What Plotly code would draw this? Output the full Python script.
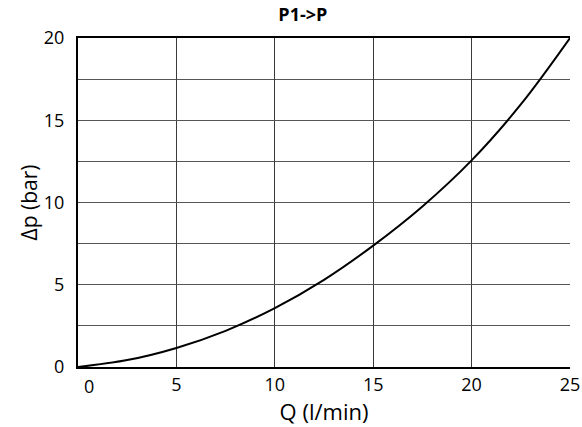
import plotly.graph_objects as go

q_lpm = [0, 2.5, 5, 7.5, 10, 12.5, 15, 17.5, 20, 22.5, 25]
dp_bar = [0, 0.42, 1.16, 2.2, 3.58, 5.30, 7.38, 9.76, 12.56, 15.96, 20.0]
x_ticks = [0, 5, 10, 15, 20, 25]
y_ticks = [0, 5, 10, 15, 20]
y_minor = [2.5, 7.5, 12.5, 17.5]

W, H = 582, 427

fig = go.Figure()
fig.add_trace(go.Scatter(x=q_lpm, y=dp_bar, mode="lines",
                         line=dict(color="black", width=2, shape="spline", smoothing=1.0),
                         showlegend=False, hoverinfo="skip"))

font_family = "Open Sans, Noto Sans, sans-serif"
fig.update_layout(
    width=W, height=H,
    margin=dict(l=78, r=12, t=38, b=60),
    paper_bgcolor="white", plot_bgcolor="white",
    font=dict(family=font_family, color="black", size=18),
    title=dict(text="<b>P1->P</b>", x=0.457, xanchor="center", xref="paper",
               yref="container", y=1 - 15 / H, yanchor="middle",
               font=dict(size=18, family=font_family, color="black")),
)
fig.update_xaxes(range=[0, 25], tickvals=x_ticks,
                 ticktext=["" if v == 0 else str(v) for v in x_ticks],
                 showgrid=True, gridcolor="#3a3a3a", gridwidth=1,
                 showline=True, linecolor="black", linewidth=2, mirror=True,
                 ticks="", zeroline=False, tickfont=dict(size=18), automargin=False,
                 title=dict(text="Q (l/min)", font=dict(size=22), standoff=6))
fig.update_yaxes(range=[0, 20], tickvals=y_ticks, ticktext=[str(v) for v in y_ticks],
                 showgrid=True, gridcolor="#555", gridwidth=1,
                 minor=dict(tickvals=y_minor, showgrid=True, gridcolor="#555", gridwidth=1),
                 showline=True, linecolor="black", linewidth=2, mirror=False,
                 ticks="", zeroline=False, tickfont=dict(size=18), automargin=False,
                 ticklabelstandoff=8,
                 title=dict(text="Δp (bar)", font=dict(size=21), standoff=0))
# the "0" label of the Q axis sits slightly right of the origin in the reference
fig.add_annotation(x=x_ticks[0], y=0, xref="x", yref="paper", text=str(x_ticks[0]),
                   showarrow=False, xanchor="center", yanchor="middle",
                   xshift=11, yshift=-19, font=dict(size=18, family=font_family, color="black"))

fig.write_html("out.html", config={"displayModeBar": False},
               post_script="document.body.style.margin='0px';")
